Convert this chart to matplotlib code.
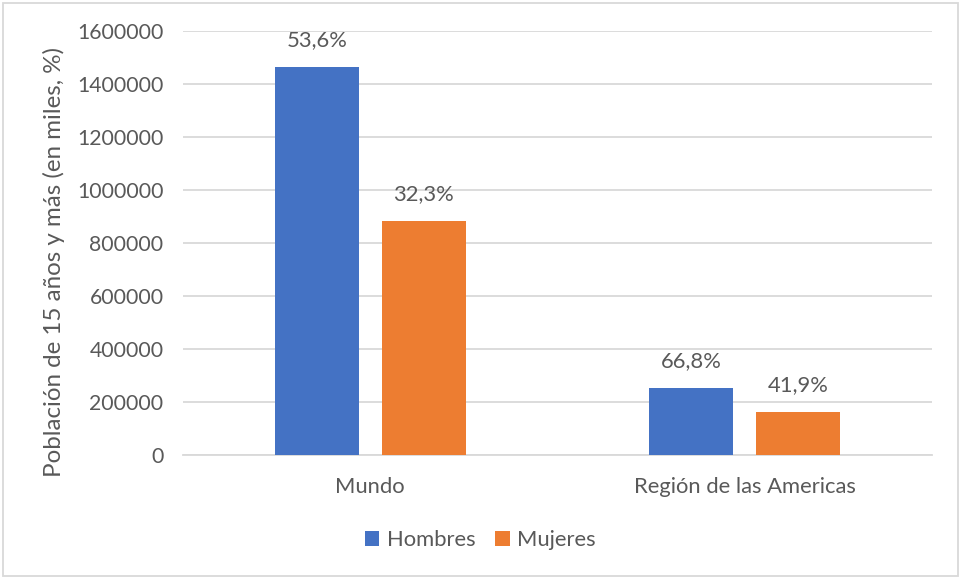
import matplotlib
matplotlib.use("Agg")
import matplotlib.pyplot as plt
import numpy as np
from matplotlib.patches import Rectangle

plt.rcParams["font.family"] = ["Lato", "DejaVu Sans"]

categories = ["Mundo", "Región de las Americas"]
hombres = [1464000, 252000]
mujeres = [882500, 162500]
hombres_pct = ["53,6%", "66,8%"]
mujeres_pct = ["32,3%", "41,9%"]
yticks = [0, 200000, 400000, 600000, 800000, 1000000, 1200000, 1400000, 1600000]

BLUE = "#4472C4"
ORANGE = "#ED7D31"
TEXT = "#595959"
GRID = "#D9D9D9"

fig = plt.figure(figsize=(9.61, 5.79), dpi=100)
ax = fig.add_axes([183 / 961, 1 - 455 / 579, 749 / 961, 424 / 579])

x = np.arange(len(categories))
w = 0.224
off = 0.143
b1 = ax.bar(x - off, hombres, w, color=BLUE, label="Hombres", zorder=3)
b2 = ax.bar(x + off, mujeres, w, color=ORANGE, label="Mujeres", zorder=3)

# percentage labels above each bar
for bars, labels in ((b1, hombres_pct), (b2, mujeres_pct)):
    for rect, lab in zip(bars, labels):
        ax.annotate(lab, (rect.get_x() + rect.get_width() / 2, rect.get_height()),
                    xytext=(0, 12), textcoords="offset points",
                    ha="center", va="bottom", fontsize=15.8, color=TEXT)

ax.set_xlim(-0.5, 1.5)
ax.set_ylim(0, 1600000)
ax.set_yticks(yticks)
ax.set_yticklabels([str(v) for v in yticks])
ax.set_xticks(x)
ax.set_xticklabels(categories)
ax.tick_params(axis="both", length=0, colors=TEXT)
ax.tick_params(axis="y", pad=14, labelsize=15.3)
ax.tick_params(axis="x", pad=16, labelsize=15.8)
ax.grid(axis="y", color=GRID, lw=1.3, zorder=0)
for s in ("top", "right", "left"):
    ax.spines[s].set_visible(False)
ax.spines["bottom"].set_color(GRID)
ax.spines["bottom"].set_linewidth(1.3)

ax.set_ylabel("Población de 15 años y más (en miles, %)", fontsize=17.4,
              color=TEXT)
ax.yaxis.set_label_coords(-118 / 749, 0.455)

fig.legend(loc="center", bbox_to_anchor=(0.5, 1 - 540 / 579), ncol=2,
           frameon=False, fontsize=15.8, labelcolor=TEXT, handlelength=0.65,
           handleheight=0.65, handletextpad=0.35, columnspacing=0.9)

fig.patches.append(Rectangle((3 / 961, 3 / 579), 955 / 961, 573 / 579,
                             transform=fig.transFigure, fill=False,
                             edgecolor=GRID, lw=1.3))

fig.savefig("out.png", dpi=100)
